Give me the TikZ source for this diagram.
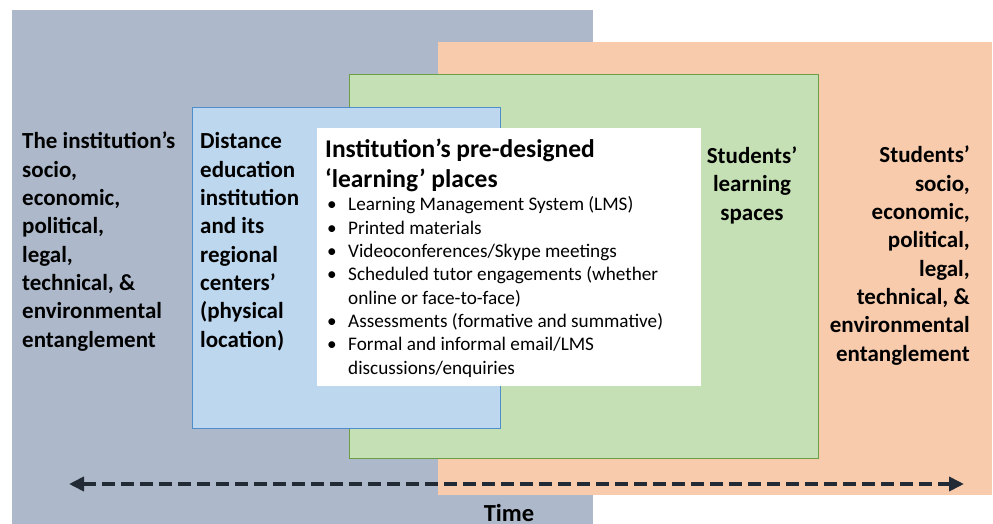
\documentclass[tikz,border=0pt]{standalone}
\usepackage{fontspec}
\setmainfont{Carlito}
\usepackage{tikz}
\usetikzlibrary{arrows.meta}
\definecolor{ctxgray}{HTML}{ADB9CA}
\definecolor{studorange}{HTML}{F8CBAD}
\definecolor{learngreen}{HTML}{C5E0B4}
\definecolor{greenedge}{HTML}{6A9F45}
\definecolor{placeblue}{HTML}{BDD7EE}
\definecolor{blueedge}{HTML}{4F8DCB}
\definecolor{timenavy}{HTML}{222A35}
\newcommand{\bul}{\makebox[21pt][l]{\textbullet}}
\newcommand{\ind}{\hspace*{21pt}}

\begin{document}
\begin{tikzpicture}[x=1pt,y=-1pt]
\useasboundingbox (0,0) rectangle (993,524);
\fill[ctxgray] (12,10) rectangle (593,524);
\fill[studorange] (438,42) rectangle (992,495);
\filldraw[fill=learngreen,draw=greenedge,line width=1pt] (349,75) rectangle (818,458);
\filldraw[fill=placeblue,draw=blueedge,line width=1pt] (192,108) rectangle (500,428);
\fill[white] (317,128) rectangle (701,386);
% side labels (base = last line)
\node[anchor=base west,align=left,inner sep=0,font=\bfseries\fontsize{23}{28.3}\selectfont] (instctx) at (22,347) {The institution’s\\socio,\\economic,\\political,\\legal,\\technical, \&\\environmental\\entanglement};
\node[anchor=base west,align=left,inner sep=0,font=\bfseries\fontsize{23}{28.3}\selectfont] (distinst) at (200,347) {Distance\\education\\institution\\and its\\regional\\centers’\\(physical\\location)};
\node[anchor=base,align=center,inner sep=0,font=\bfseries\fontsize{23}{28.3}\selectfont] (studspace) at (752,220) {Students’\\learning\\spaces};
\node[anchor=base east,align=right,inner sep=0,font=\bfseries\fontsize{23}{28.3}\selectfont] (studctx) at (970,361) {Students’\\socio,\\economic,\\political,\\legal,\\technical, \&\\environmental\\entanglement};
% pre-designed places
\node[anchor=base west,align=left,inner sep=0,font=\bfseries\fontsize{25.5}{30}\selectfont] (placestitle) at (325,187) {Institution’s pre-designed\\‘learning’ places};
\node[anchor=base west,align=left,inner sep=0,font=\fontsize{19.2}{23.3}\selectfont] (placeslist) at (327,374) {\bul Learning Management System (LMS)\\\bul Printed materials\\\bul Videoconferences/Skype meetings\\\bul Scheduled tutor engagements (whether\\\ind online or face-to-face)\\\bul Assessments (formative and summative)\\\bul Formal and informal email/LMS\\\ind discussions/enquiries};
% time axis
\coordinate (tstart) at (69,484);
\coordinate (tend) at (964,484);
\draw[timenavy,line width=4.5pt,dash pattern=on 13pt off 6pt,{Triangle[length=15pt,width=14pt]}-{Triangle[length=15pt,width=14pt]}] (tstart) -- (tend);
\node[anchor=base,inner sep=0,font=\bfseries\fontsize{24.5}{29}\selectfont] (timelbl) at (509,521) {Time};
\end{tikzpicture}
\end{document}
